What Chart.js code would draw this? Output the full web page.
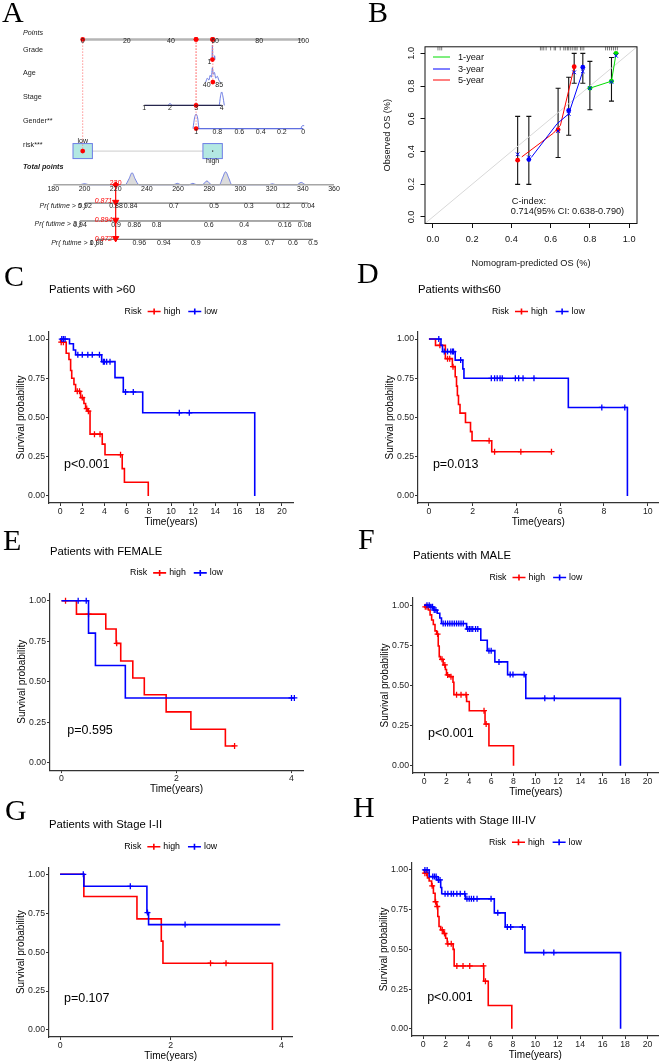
<!DOCTYPE html>
<html>
<head>
<meta charset="utf-8">
<script src="https://cdn.jsdelivr.net/npm/chart.js@4.4.1/dist/chart.umd.min.js"></script>
<style>
  html, body { margin: 0; padding: 0; background: #fff; }
  #page { position: relative; width: 664px; height: 1062px; overflow: hidden; background: #fff; }
  .tag { position: absolute; z-index: 5; font-family: "Liberation Serif", "Times New Roman", serif; font-size: 30px; line-height: 30px; color: #000; }
</style>
</head>
<body>
<div id="page">
  <div class="tag" style="left:2px;top:-3px">A</div>
  <div class="tag" style="left:368px;top:-3px">B</div>
  <div class="tag" style="left:4px;top:261px">C</div>
  <div class="tag" style="left:357px;top:258px">D</div>
  <div class="tag" style="left:3px;top:525px">E</div>
  <div class="tag" style="left:358px;top:524px">F</div>
  <div class="tag" style="left:5px;top:795px">G</div>
  <div class="tag" style="left:353px;top:792px">H</div>
</div>
<script>
// ---------- A: nomogram ----------
const pointsTicks = [0, 20, 40, 60, 80, 100];
const gradeLabels = ["1"];
const gradePts = [57.4];
const ageLabels = ["40", "85"];
const agePts = [56.2, 61.9];
const stageLabels = ["1", "2", "3", "4"];
const stagePts = [27.9, 39.6, 51.4, 63.0];
const genderLabels = ["1", "0.8", "0.6", "0.4", "0.2", "0"];
const genderPts = [51.4, 61.0, 71.0, 80.7, 90.3, 100];
const riskLabels = ["low", "high"];
const riskPts = [0, 58.9];
const totalTicks = [180, 200, 220, 240, 260, 280, 300, 320, 340, 360];
const pr5Labels = ["0.92", "0.88", "0.84", "0.7", "0.5", "0.3", "0.12", "0.04"];
const pr5Total = [200.3, 220.2, 229.6, 257.3, 283.1, 305.4, 327.3, 343.4];
const pr3Labels = ["0.94", "0.9", "0.86", "0.8", "0.6", "0.4", "0.16", "0.08"];
const pr3Total = [197.1, 220.2, 231.9, 246.2, 279.7, 302.4, 328.4, 341.2];
const pr1Labels = ["0.98", "0.96", "0.94", "0.9", "0.8", "0.7", "0.6", "0.5"];
const pr1Total = [207.8, 235.1, 250.9, 271.4, 301.1, 318.8, 333.7, 346.6];
// patient shown in red: grade, age, stage, gender, risk
const patientPts = [58.8, 59.0, 51.4, 51.4, 0];
const patientTotal = 220;
const patientProb = ["0.871", "0.894", "0.972"];
// distribution bumps (points, height)
const gradeDensX = [58.6, 58.8, 59.0, 59.6, 59.8, 60.0];
const gradeDensH = [0, 15, 0, 0, 4, 0];
const ageDensX = [55.8, 56.5, 57.2, 57.8, 58.3, 58.8, 59.2, 59.7, 60.3, 61.0, 61.7, 62.3];
const ageDensH = [0, 4, 2, 7, 5, 15, 8, 10, 4, 6, 2, 0];
const stageDensX = [38.6, 39.6, 40.6, 61.8, 62.5, 63.0, 63.5, 64.2];
const stageDensH = [0, 2, 0, 0, 10, 14, 10, 0];
const genderDensX = [50.0, 50.7, 51.4, 52.1, 52.8, 98.8, 99.6, 100.4, 101.2];
const genderDensH = [0, 11, 15, 11, 0, 0, 3, 3, 0];
const totalDensX = [180, 197, 200, 203, 226, 228.5, 230.5, 232.5, 235, 257, 259.5, 262, 267, 269.5, 272, 275.5, 278.5, 281.5, 286.5, 288.5, 290.5, 292.5, 294.5, 318, 320.5, 323, 336, 339, 342, 360];
const totalDensH = [0, 0, 1.2, 0, 0, 6, 12.5, 6, 0, 0, 1.5, 0, 0, 1.5, 0, 0, 4, 0, 0, 7, 13.5, 7, 0, 0, 1, 0, 0, 2.5, 0, 0];

// ---------- B: calibration ----------
const calTicks = [0, 0.2, 0.4, 0.6, 0.8, 1.0];
const y1X = [0.80, 0.91, 0.933];
const y1Y = [0.787, 0.83, 1.0];
const y1Lo = [0.655, 0.708, 1.0];
const y1Hi = [0.951, 0.975, 1.0];
const y3X = [0.489, 0.692, 0.764];
const y3Y = [0.351, 0.651, 0.915];
const y3Lo = [0.199, 0.499, 0.817];
const y3Hi = [0.615, 0.854, 1.0];
const y5X = [0.432, 0.638, 0.72];
const y5Y = [0.347, 0.533, 0.918];
const y5Lo = [0.199, 0.363, 0.817];
const y5Hi = [0.615, 0.787, 1.0];
const y1LineX = [0.80, 0.91, 0.933];
const y1LineY = [0.787, 0.83, 0.995];
const y3LineX = [0.501, 0.633, 0.692, 0.764];
const y3LineY = [0.363, 0.57, 0.63, 0.89];
const y5LineX = [0.453, 0.615, 0.65, 0.718];
const y5LineY = [0.367, 0.513, 0.56, 0.905];
const corrX = [0.432, 0.489, 0.638, 0.692, 0.72, 0.764, 0.80, 0.91, 0.933];
const corrY = [0.383, 0.365, 0.525, 0.63, 0.884, 0.89, 0.787, 0.825, 0.985];
const rugX = [0.026, 0.036, 0.045, 0.548, 0.556, 0.565, 0.577, 0.6, 0.618, 0.625, 0.649, 0.667, 0.675, 0.685, 0.69, 0.7, 0.71, 0.72, 0.728, 0.735, 0.752, 0.76, 0.769, 0.88, 0.89, 0.9, 0.91, 0.92, 0.93, 0.94];

// ---------- C-H: survival curves ----------
const cHighT = [0, 0.05, 0.55, 0.8, 0.95, 1.05, 1.25, 1.4, 1.85, 2.15, 2.3, 2.5, 2.7, 3.8, 4.05, 5.6, 5.8, 7.95];
const cHighS = [1, 0.98, 0.91, 0.87, 0.80, 0.75, 0.71, 0.667, 0.627, 0.589, 0.557, 0.54, 0.394, 0.33, 0.263, 0.174, 0.087, 0];
const cHighC = [0.1, 0.3, 1.55, 1.75, 2.0, 2.4, 2.55, 3.1, 3.6, 5.45];
const cLowT = [0, 0.85, 1.2, 1.4, 3.75, 4.95, 5.7, 7.45, 17.55];
const cLowS = [1, 0.97, 0.93, 0.90, 0.856, 0.754, 0.663, 0.53, 0];
const cLowC = [0.15, 0.3, 0.45, 1.6, 2.0, 2.5, 2.9, 3.55, 3.9, 4.0, 4.2, 4.5, 5.9, 6.6, 10.75, 11.65];

const dHighT = [0, 0.3, 0.75, 1.07, 1.2, 1.26, 1.3, 1.35, 1.42, 1.67, 1.9, 1.97, 2.87, 5.6];
const dHighS = [1, 0.96, 0.875, 0.824, 0.76, 0.70, 0.64, 0.583, 0.528, 0.468, 0.41, 0.352, 0.282, 0.282];
const dHighC = [0.5, 0.85, 0.95, 1.1, 2.75, 3.0, 4.2, 5.6];
const dLowT = [0, 0.55, 0.62, 1.2, 1.55, 1.6, 6.37, 9.07];
const dLowS = [1, 0.96, 0.92, 0.866, 0.81, 0.75, 0.564, 0];
const dLowC = [0.45, 0.7, 0.85, 1.0, 1.08, 1.12, 1.45, 2.85, 3.0, 3.12, 3.25, 3.35, 3.95, 4.1, 4.3, 4.8, 7.9, 8.95];

const eHighT = [0, 0.26, 0.77, 0.95, 1.03, 1.24, 1.44, 1.82, 2.25, 2.85, 3.02];
const eHighS = [1, 0.917, 0.825, 0.737, 0.628, 0.523, 0.42, 0.314, 0.207, 0.104, 0.104];
const eHighC = [0.07, 0.47, 0.96, 3.01];
const eLowT = [0, 0.47, 0.59, 1.11, 4.05];
const eLowS = [1, 0.8, 0.6, 0.4, 0.4];
const eLowC = [0.29, 0.43, 4.0, 4.05];

const fHighT = [0, 0.05, 0.38, 0.53, 0.67, 0.82, 0.97, 1.12, 1.26, 1.35, 1.46, 1.7, 1.9, 2.0, 2.28, 2.58, 2.66, 3.8, 4.04, 5.45, 5.8, 8.0];
const fHighS = [1, 0.99, 0.97, 0.94, 0.908, 0.88, 0.84, 0.82, 0.746, 0.68, 0.663, 0.628, 0.60, 0.566, 0.555, 0.52, 0.443, 0.40, 0.343, 0.26, 0.125, 0];
const fHighC = [0.1, 0.25, 1.2, 1.6, 1.85, 2.1, 2.4, 2.9, 3.3, 3.75, 5.36, 5.55];
const fLowT = [0, 0.53, 0.85, 1.17, 1.4, 1.55, 3.8, 5.07, 5.65, 6.33, 7.47, 9.1, 17.57];
const fLowS = [1, 0.99, 0.97, 0.95, 0.92, 0.886, 0.852, 0.782, 0.717, 0.647, 0.568, 0.42, 0];
const fLowC = [0.25, 0.45, 0.6, 0.75, 0.9, 1.05, 1.7, 1.9, 2.1, 2.3, 2.5, 2.7, 2.9, 3.1, 3.3, 3.5, 3.9, 4.05, 4.2, 4.35, 4.6, 4.8, 5.8, 6.0, 6.7, 7.7, 7.95, 8.95, 10.8, 11.65];

const gHighT = [0, 0.43, 1.39, 1.83, 1.86, 3.84];
const gHighS = [1, 0.857, 0.714, 0.571, 0.429, 0];
const gHighC = [2.72, 3.0];
const gLowT = [0, 0.43, 1.57, 1.6, 3.98];
const gLowS = [1, 0.923, 0.754, 0.677, 0.677];
const gLowC = [0.42, 1.27, 1.58, 2.26];

const hHighT = [0, 0.1, 0.38, 0.53, 0.75, 0.91, 1.06, 1.2, 1.3, 1.41, 1.56, 1.79, 2.0, 2.14, 2.67, 2.76, 5.4, 5.8, 7.9];
const hHighS = [1, 0.98, 0.95, 0.93, 0.90, 0.853, 0.80, 0.77, 0.707, 0.644, 0.623, 0.60, 0.57, 0.535, 0.50, 0.396, 0.30, 0.147, 0];
const hHighC = [0.15, 0.3, 0.8, 1.1, 1.25, 1.7, 1.9, 2.2, 2.5, 3.0, 3.55, 4.15, 5.37, 5.55];
const hLowT = [0, 0.53, 1.2, 1.56, 1.65, 3.76, 6.34, 7.31, 9.07, 17.6];
const hLowS = [1, 0.958, 0.937, 0.89, 0.85, 0.818, 0.73, 0.641, 0.48, 0];
const hLowC = [0.15, 0.35, 0.85, 1.0, 1.15, 1.35, 1.5, 1.95, 2.2, 2.5, 2.7, 3.0, 3.3, 3.7, 3.9, 4.1, 4.3, 4.5, 4.8, 6.05, 6.65, 7.5, 7.8, 8.85, 10.75, 11.65];

const survTicks = [0, 0.25, 0.5, 0.75, 1];
const longTicks = [0, 2, 4, 6, 8, 10, 12, 14, 16, 18, 20];
const midTicks = [0, 2, 4, 6, 8, 10];
const shortTicks = [0, 2, 4];

const FONT = "'Liberation Sans', Arial, Helvetica, sans-serif";
const RED = "#ff0000";
const BLUE = "#0000ff";
const GREEN = "#00dd00";
Chart.defaults.font.family = FONT;

function makeCanvas(x, y, w, h) {
  const c = document.createElement("canvas");
  c.width = w;
  c.height = h;
  c.style.cssText = `position:absolute;left:${x}px;top:${y}px;width:${w}px;height:${h}px`;
  document.getElementById("page").appendChild(c);
  return c;
}

function xy(xs, ys) {
  return xs.map((v, i) => ({ x: v, y: ys[i] }));
}

// ================= A: nomogram =================
const rowY = { points: 35.7, total: 186.7, pr5: 205.7, pr3: 224.3, pr1: 243.3 };
const varRowY = [56.7, 80, 104.3, 128.3, 151.7]; // grade, age, stage, gender, risk

function hline(xs, yv, color, width, axis, order) {
  return {
    type: "line", data: [{ x: Math.min(...xs), y: yv }, { x: Math.max(...xs), y: yv }],
    borderColor: color, borderWidth: width, pointRadius: 0, xAxisID: axis || "x", clip: false, order: order || 6,
  };
}

function bump(xs, hs, base, axis) {
  return {
    type: "line", data: xs.map((v, i) => ({ x: v, y: base - hs[i] })),
    borderColor: "#5f6fe0", borderWidth: 0.9, pointRadius: 0, cubicInterpolationMode: "monotone",
    xAxisID: axis || "x", clip: false, order: 9,
  };
}

const nomoDatasets = [
  hline(pointsTicks, rowY.points, "#b5b5b5", 2.5),
  bump(gradeDensX, gradeDensH, varRowY[0]),
  bump(ageDensX, ageDensH, varRowY[1]),
  bump(stageDensX, stageDensH, varRowY[2]),
  bump(genderDensX, genderDensH, varRowY[3]),
  hline(stagePts, varRowY[2], "#26264d", 1.2),
  hline(genderPts, varRowY[3], "#5f6fe0", 1.2),
  Object.assign(hline(riskPts, varRowY[4], "#cccccc", 1, "x", 5), { label: "riskLine" }),
  hline(totalTicks, rowY.total, "#a6a6a6", 1.6, "x2"),
  {
    type: "line", data: xy(totalDensX, totalDensX.map((v, i) => rowY.total - totalDensH[i])),
    borderColor: "#6676e0", borderWidth: 0.9, backgroundColor: "#dcdcdc", fill: { value: rowY.total },
    pointRadius: 0, cubicInterpolationMode: "monotone", xAxisID: "x2", clip: false, order: 9,
  },
  hline(pr5Total, rowY.pr5, "#555555", 1, "x2"),
  hline(pr3Total, rowY.pr3, "#555555", 1, "x2"),
  hline(pr1Total, rowY.pr1, "#555555", 1, "x2"),
];
// dotted guides from the points axis down to each variable
patientPts.forEach((p, i) => {
  nomoDatasets.push({
    type: "line", data: [{ x: p, y: rowY.points }, { x: p, y: varRowY[i] }],
    borderColor: "#ff7a7a", borderWidth: 0.8, borderDash: [1.5, 1.5], pointRadius: 0, clip: false, order: 4,
  });
});
nomoDatasets.push({
  type: "line", data: [{ x: patientTotal, y: rowY.total }, { x: patientTotal, y: rowY.pr1 }],
  borderColor: RED, borderWidth: 1.2, pointRadius: 0, xAxisID: "x2", clip: false, order: 3,
});
nomoDatasets.push({
  type: "scatter", data: patientPts.map((p, i) => ({ x: p, y: varRowY[i] })).concat(patientPts.map(p => ({ x: p, y: rowY.points }))),
  pointRadius: 2.4, backgroundColor: RED, borderColor: RED, borderWidth: 0, clip: false, order: 0,
});
nomoDatasets.push({
  type: "scatter", data: [{ x: patientTotal, y: rowY.total }],
  pointRadius: 3, pointStyle: "rectRot", backgroundColor: RED, borderColor: RED, xAxisID: "x2", clip: false, order: 0,
});
nomoDatasets.push({
  type: "scatter", data: [rowY.pr5, rowY.pr3, rowY.pr1].map(v => ({ x: patientTotal, y: v - 1 })),
  pointRadius: 3.6, pointStyle: "triangle", rotation: 180, backgroundColor: RED, borderColor: RED,
  xAxisID: "x2", clip: false, order: 0,
});

const nomoText = {
  id: "nomoText",
  afterDatasetDraw(chart, args) {
    if (chart.data.datasets[args.index].label !== "riskLine") return;
    const { ctx, scales: { x, y } } = chart;
    ctx.save();
    riskPts.forEach((p, i) => {
      const px = x.getPixelForValue(p), py = y.getPixelForValue(varRowY[4]);
      ctx.fillStyle = "#b3e8e2";
      ctx.strokeStyle = "#6d7ee6";
      ctx.lineWidth = 1;
      ctx.fillRect(px - 9.7, py - 7.5, 19.4, 15);
      ctx.strokeRect(px - 9.7, py - 7.5, 19.4, 15);
      if (i === 1) {
        ctx.fillStyle = "#222";
        ctx.fillRect(px - 0.6, py - 0.6, 1.2, 1.2);
      }
    });
    ctx.restore();
  },
  afterDatasetsDraw(chart) {
    const { ctx, scales: { x, x2, y } } = chart;
    ctx.save();
    ctx.fillStyle = "#222";
    ctx.textBaseline = "middle";
    ctx.textAlign = "center";
    ctx.font = `7px ${FONT}`;
    const put = (labels, vals, scale, yv) => labels.forEach((t, i) => ctx.fillText(t, scale.getPixelForValue(vals[i]), y.getPixelForValue(yv)));
    put(pointsTicks.map(String), pointsTicks, x, rowY.points + 2.2);
    put(gradeLabels, gradePts, x, varRowY[0] + 2.3);
    put(ageLabels, agePts, x, varRowY[1] + 3.3);
    put(stageLabels, stagePts, x, varRowY[2] + 2.6);
    put(genderLabels, genderPts, x, varRowY[3] + 3.4);
    put(totalTicks.map(String), totalTicks, x2, rowY.total + 4.3);
    put(pr5Labels, pr5Total, x2, rowY.pr5 + 3.5);
    put(pr3Labels, pr3Total, x2, rowY.pr3 + 4);
    put(pr1Labels, pr1Total, x2, rowY.pr1 + 3.7);
    put(["low"], [riskPts[0]], x, varRowY[4] - 10);
    put(["high"], [riskPts[1]], x, varRowY[4] + 10);
    // row names
    ctx.textAlign = "left";
    const names = [["Points", rowY.points - 2.5, "italic "], ["Grade", 50, ""], ["Age", 73, ""], ["Stage", 97, ""],
      ["Gender**", 121, ""], ["risk***", 145, ""], ["Total points", 167, "italic bold "]];
    names.forEach(([t, yy, st]) => {
      ctx.font = `${st}7.2px ${FONT}`;
      ctx.fillText(t, 23, yy);
    });
    ctx.textAlign = "right";
    ctx.font = `italic 7px ${FONT}`;
    [["Pr( futime > 5 )", pr5Total, rowY.pr5], ["Pr( futime > 3 )", pr3Total, rowY.pr3], ["Pr( futime > 1 )", pr1Total, rowY.pr1]]
      .forEach(([t, arr, yy]) => ctx.fillText(t, x2.getPixelForValue(Math.min(...arr)) + 1, yy));
    // red readouts
    ctx.fillStyle = RED;
    const tx = x2.getPixelForValue(patientTotal);
    [rowY.pr5, rowY.pr3, rowY.pr1].forEach((yy, i) => ctx.fillText(patientProb[i], tx - 3.5, yy - 4.2));
    ctx.textAlign = "center";
    ctx.font = `7px ${FONT}`;
    ctx.fillText(String(patientTotal), tx, rowY.total - 3.6);
    ctx.restore();
  },
};

new Chart(makeCanvas(0, 0, 340, 270), {
  type: "scatter",
  data: { datasets: nomoDatasets },
  options: {
    responsive: false, animation: false, events: [], devicePixelRatio: 1,
    layout: { padding: { left: 82.7, right: 36.7, top: 0, bottom: 0 } },
    scales: {
      x: { type: "linear", min: 0, max: 100, display: false },
      x2: { type: "linear", position: "bottom", min: 198.85, max: 340.32, display: false },
      y: { type: "linear", min: 0, max: 270, reverse: true, display: false },
    },
    plugins: { legend: { display: false }, tooltip: { enabled: false } },
  },
  plugins: [nomoText],
});

// ================= B: calibration =================
const calGroups = [
  { x: y5X, lo: y5Lo, hi: y5Hi },
  { x: y3X, lo: y3Lo, hi: y3Hi },
  { x: y1X, lo: y1Lo, hi: y1Hi },
];
const calDecor = {
  id: "calDecor",
  beforeDatasetsDraw(chart) {
    const { ctx, chartArea: a, scales: { x, y } } = chart;
    ctx.save();
    ctx.strokeStyle = "#111";
    ctx.lineWidth = 1.1;
    calGroups.forEach(g => g.x.forEach((v, i) => {
      const px = x.getPixelForValue(v), y1 = y.getPixelForValue(g.lo[i]), y2 = y.getPixelForValue(g.hi[i]);
      ctx.beginPath();
      ctx.moveTo(px, y1); ctx.lineTo(px, y2);
      ctx.moveTo(px - 2.5, y1); ctx.lineTo(px + 2.5, y1);
      ctx.moveTo(px - 2.5, y2); ctx.lineTo(px + 2.5, y2);
      ctx.stroke();
    }));
    ctx.strokeStyle = "#444";
    ctx.lineWidth = 0.7;
    ctx.beginPath();
    rugX.forEach(v => {
      const px = x.getPixelForValue(v);
      ctx.moveTo(px, a.top); ctx.lineTo(px, a.top + 3.6);
    });
    ctx.stroke();
    ctx.restore();
  },
  afterDraw(chart) {
    const { ctx, chartArea: a, scales: { x, y } } = chart;
    ctx.save();
    ctx.strokeStyle = "#111";
    ctx.lineWidth = 1;
    ctx.strokeRect(a.left, a.top, a.right - a.left, a.bottom - a.top);
    ctx.fillStyle = "#111";
    ctx.font = `9.2px ${FONT}`;
    ctx.textAlign = "center";
    ctx.textBaseline = "middle";
    calTicks.forEach(v => {
      ctx.save();
      ctx.translate(41.7, y.getPixelForValue(v));
      ctx.rotate(-Math.PI / 2);
      ctx.fillText(v.toFixed(1), 0, 0);
      ctx.restore();
    });
    ctx.fillText("Nomogram-predicted OS (%)", (a.left + a.right) / 2, 263);
    ctx.save();
    ctx.translate(17, (a.top + a.bottom) / 2);
    ctx.rotate(-Math.PI / 2);
    ctx.fillText("Observed OS (%)", 0, 0);
    ctx.restore();
    // legend
    ctx.textAlign = "left";
    [["1-year", GREEN, 57], ["3-year", BLUE, 69], ["5-year", RED, 80]].forEach(([t, c, yy]) => {
      ctx.strokeStyle = c;
      ctx.lineWidth = 1;
      ctx.beginPath();
      ctx.moveTo(63, yy); ctx.lineTo(80, yy);
      ctx.stroke();
      ctx.fillText(t, 88, yy);
    });
    ctx.fillText("C-index:", x.getPixelForValue(0.402), y.getPixelForValue(0.094));
    ctx.fillText("0.714(95% CI: 0.638-0.790)", x.getPixelForValue(0.397), y.getPixelForValue(0.033));
    ctx.restore();
  },
};

function calLine(xs, ys, color) {
  return { type: "line", data: xy(xs, ys), borderColor: color, borderWidth: 1, pointRadius: 0, order: 3 };
}
function calPts(xs, ys, color) {
  return { type: "scatter", data: xy(xs, ys), pointRadius: 2.4, backgroundColor: color, borderColor: color, borderWidth: 0, order: 1 };
}

new Chart(makeCanvas(370, 0, 294, 270), {
  type: "scatter",
  data: {
    datasets: [
      { type: "line", data: [{ x: -0.04, y: -0.04 }, { x: 1.04, y: 1.04 }], borderColor: "#d8d8d8", borderWidth: 1, pointRadius: 0, order: 5 },
      calLine(y1LineX, y1LineY, GREEN),
      calLine(y3LineX, y3LineY, BLUE),
      calLine(y5LineX, y5LineY, RED),
      calPts(y5X, y5Y, RED),
      calPts(y3X, y3Y, BLUE),
      calPts(y1X, y1Y, GREEN),
      { type: "scatter", data: xy(corrX, corrY), pointStyle: "crossRot", pointRadius: 2.6, borderColor: BLUE, borderWidth: 1, order: 0 },
    ],
  },
  options: {
    responsive: false, animation: false, events: [], devicePixelRatio: 1,
    layout: { padding: { left: 0, top: 46.8, right: 27, bottom: 0 } },
    scales: {
      x: {
        type: "linear", min: -0.04, max: 1.04,
        afterBuildTicks: s => { s.ticks = calTicks.map(v => ({ value: v })); },
        afterFit: s => { s.height = 46.5; },
        grid: { drawOnChartArea: false, tickLength: 4.5, color: "#111" },
        border: { display: false },
        ticks: { color: "#111", font: { size: 9.2 }, padding: 6, maxRotation: 0, autoSkip: false, callback: v => Number(v).toFixed(1) },
      },
      y: {
        type: "linear", min: -0.04, max: 1.04,
        afterBuildTicks: s => { s.ticks = calTicks.map(v => ({ value: v })); },
        afterFit: s => { s.width = 55; },
        grid: { drawOnChartArea: false, tickLength: 4.5, color: "#111" },
        border: { display: false },
        ticks: { display: false },
      },
    },
    plugins: { legend: { display: false }, tooltip: { enabled: false } },
  },
  plugins: [calDecor],
});

// ================= C-H: Kaplan-Meier =================
function survAt(times, surv, t) {
  let s = surv[0];
  for (let i = 0; i < times.length; i++) if (times[i] <= t) s = surv[i];
  return s;
}

function legendSym(ctx, x0, y0, w, color) {
  ctx.save();
  ctx.strokeStyle = color;
  ctx.lineWidth = 1.6;
  ctx.beginPath();
  ctx.moveTo(x0, y0); ctx.lineTo(x0 + w, y0);
  ctx.moveTo(x0 + w / 2, y0 - 3); ctx.lineTo(x0 + w / 2, y0 + 3);
  ctx.stroke();
  ctx.restore();
}

function kmDecor(info) {
  return {
    id: "kmDecor",
    afterDraw(chart) {
      const { ctx, chartArea: a, scales: { x, y } } = chart;
      const cx = (a.left + a.right) / 2;
      ctx.save();
      ctx.fillStyle = "#000";
      ctx.textBaseline = "middle";
      ctx.textAlign = "left";
      ctx.font = `11.3px ${FONT}`;
      ctx.fillText(info.title, a.left, a.top - 42);
      ctx.font = `8.8px ${FONT}`;
      const ly = a.top - 20.5;
      const wR = ctx.measureText("Risk").width, wH = ctx.measureText("high").width, wL = ctx.measureText("low").width;
      const sym = 13;
      let lx = cx - (wR + 6 + sym + 3 + wH + 8 + sym + 3 + wL) / 2;
      ctx.fillText("Risk", lx, ly); lx += wR + 6;
      legendSym(ctx, lx, ly, sym, RED); lx += sym + 3;
      ctx.fillText("high", lx, ly); lx += wH + 8;
      legendSym(ctx, lx, ly, sym, BLUE); lx += sym + 3;
      ctx.fillText("low", lx, ly);
      ctx.font = `12.5px ${FONT}`;
      ctx.fillText(info.pval, x.getPixelForValue(info.pvalX), y.getPixelForValue(0.2));
      ctx.font = `10px ${FONT}`;
      ctx.textAlign = "center";
      ctx.fillText("Time(years)", cx, a.bottom + 19);
      ctx.translate(a.left - 28, (a.top + a.bottom) / 2);
      ctx.rotate(-Math.PI / 2);
      ctx.fillText("Survival probability", 0, 0);
      ctx.restore();
    },
  };
}

function kmChart(pos, area, xRange, xTicks, high, low, info) {
  const curves = [[high, RED, 4], [low, BLUE, 2]];
  const datasets = [];
  curves.forEach(([c, color, ord]) => {
    datasets.push({
      type: "line", data: xy(c.t, c.s), stepped: true, borderColor: color, borderWidth: 1.6,
      pointRadius: 0, fill: false, order: ord,
    });
    datasets.push({
      type: "scatter", data: c.c.map(t => ({ x: t, y: survAt(c.t, c.s, t) })), pointStyle: "cross",
      pointRadius: 3, borderColor: color, borderWidth: 1.3, order: ord - 1,
    });
  });
  new Chart(makeCanvas(pos[0], pos[1], pos[2], pos[3]), {
    type: "line",
    data: { datasets },
    options: {
      responsive: false, animation: false, events: [], devicePixelRatio: 1,
      layout: { padding: { left: 0, bottom: 0, top: area[1] - pos[1], right: pos[0] + pos[2] - area[2] } },
      scales: {
        x: {
          type: "linear", min: xRange[0], max: xRange[1],
          afterBuildTicks: s => { s.ticks = xTicks.map(v => ({ value: v })); },
          afterFit: s => { s.height = pos[1] + pos[3] - area[3]; },
          grid: { drawOnChartArea: false, tickLength: 3, color: "#333" },
          border: { color: "#333", width: 1.2 },
          ticks: { color: "#222", font: { size: 8.7 }, padding: 0, maxRotation: 0, autoSkip: false, callback: v => String(v) },
        },
        y: {
          type: "linear", min: -0.045, max: 1.045,
          afterBuildTicks: s => { s.ticks = survTicks.map(v => ({ value: v })); },
          afterFit: s => { s.width = area[0] - pos[0]; },
          grid: { drawOnChartArea: false, tickLength: 3, color: "#333" },
          border: { color: "#333", width: 1.2 },
          ticks: { color: "#222", font: { size: 8.7 }, padding: 1, callback: v => Number(v).toFixed(2) },
        },
      },
      plugins: { legend: { display: false }, tooltip: { enabled: false } },
    },
    plugins: [kmDecor(info)],
  });
}

kmChart([0, 270, 330, 260], [49, 332, 293, 503], [-1, 21], longTicks,
  { t: cHighT, s: cHighS, c: cHighC }, { t: cLowT, s: cLowS, c: cLowC },
  { title: "Patients with >60", pval: "p<0.001", pvalX: 0.35 });
kmChart([330, 270, 334, 260], [418, 332, 664, 503], [-0.5, 10.5], midTicks,
  { t: dHighT, s: dHighS, c: dHighC }, { t: dLowT, s: dLowS, c: dLowC },
  { title: "Patients with\u226460", pval: "p=0.013", pvalX: 0.18 });
kmChart([0, 530, 330, 272], [50, 593.4, 303, 770.1], [-0.2, 4.2], shortTicks,
  { t: eHighT, s: eHighS, c: eHighC }, { t: eLowT, s: eLowS, c: eLowC },
  { title: "Patients with FEMALE", pval: "p=0.595", pvalX: 0.1 });
kmChart([330, 530, 334, 272], [413, 598, 663, 773], [-1, 21], longTicks,
  { t: fHighT, s: fHighS, c: fHighC }, { t: fLowT, s: fLowS, c: fLowC },
  { title: "Patients with MALE", pval: "p<0.001", pvalX: 0.35 });
kmChart([0, 802, 330, 260], [49, 867.3, 292.4, 1037], [-0.2, 4.2], shortTicks,
  { t: gHighT, s: gHighS, c: gHighC }, { t: gLowT, s: gLowS, c: gLowC },
  { title: "Patients with Stage I-II", pval: "p=0.107", pvalX: 0.07 });
kmChart([330, 802, 334, 260], [412, 862.8, 661.4, 1036], [-1, 21], longTicks,
  { t: hHighT, s: hHighS, c: hHighC }, { t: hLowT, s: hLowS, c: hLowC },
  { title: "Patients with Stage III-IV", pval: "p<0.001", pvalX: 0.35 });
</script>
</body>
</html>
